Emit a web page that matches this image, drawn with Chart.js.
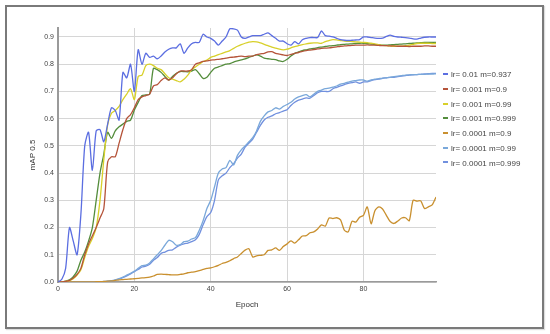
<!DOCTYPE html>
<html>
<head>
<meta charset="utf-8">
<script src="https://cdn.jsdelivr.net/npm/chart.js@4.4.1/dist/chart.umd.min.js"></script>
<style>
  html, body { margin: 0; padding: 0; background: #fff; }
  #wrap { position: relative; width: 550px; height: 334px; overflow: hidden; }
  #frame { position: absolute; left: 5px; top: 5px; width: 539px; height: 324px; box-sizing: border-box; border: 2px solid #7a7a7a; box-shadow: 1px 1px 1px #ddd; }
  #c { position: absolute; left: 0; top: 0; }
  .lg { position: absolute; left: 443px; height: 10px; line-height: 10px; font: 8px "Liberation Sans", Arial, sans-serif; color: #444; white-space: nowrap; }
  .lg i { display: inline-block; width: 5px; height: 2px; vertical-align: middle; margin-right: 3px; position: relative; top: -1px; }
</style>
</head>
<body>
<div id="wrap">
  <div id="frame"></div>
  <canvas id="c" width="550" height="334"></canvas>
  <div id="legend"></div>
</div>
<script>
const seriesNames = ["lr= 0.01 m=0.937", "lr= 0.001 m=0.9", "lr= 0.001 m=0.99", "lr= 0.001 m=0.999", "lr= 0.0001 m=0.9", "lr= 0.0001 m=0.99", "lr= 0.0001 m=0.999"];
const seriesColors = ["#5b6ee1", "#b5543a", "#d8d02a", "#548d3c", "#c9902f", "#7aa8da", "#7190de"];
const yTickLabels = ["0.0", "0.1", "0.2", "0.3", "0.4", "0.5", "0.6", "0.7", "0.8", "0.9"];
const xTickLabels = ["0", "20", "40", "60", "80"];

const epochs = Array.from({length: 100}, (_, i) => i);

const s1 = [0.0,0.01,0.05,0.20,0.15,0.10,0.25,0.50,0.55,0.41,
0.555,0.56,0.515,0.58,0.64,0.63,0.595,0.77,0.75,0.80,
0.70,0.853,0.80,0.84,0.825,0.83,0.82,0.83,0.845,0.855,
0.86,0.86,0.875,0.84,0.86,0.875,0.88,0.88,0.91,0.90,
0.895,0.885,0.87,0.885,0.90,0.93,0.93,0.925,0.90,0.895,
0.90,0.905,0.905,0.905,0.91,0.915,0.905,0.895,0.885,0.885,
0.875,0.87,0.883,0.875,0.89,0.895,0.898,0.898,0.898,0.922,
0.905,0.903,0.90,0.895,0.89,0.888,0.887,0.888,0.889,0.89,
0.90,0.90,0.898,0.896,0.895,0.896,0.902,0.907,0.902,0.90,
0.899,0.898,0.896,0.893,0.892,0.896,0.899,0.90,0.90,0.90];

const s2 = [0,0,0.002,0.006,0.015,0.028,0.05,0.10,0.14,0.17,
0.20,0.235,0.27,0.44,0.46,0.46,0.51,0.56,0.60,0.615,
0.64,0.67,0.68,0.685,0.69,0.72,0.725,0.74,0.75,0.742,
0.75,0.765,0.775,0.775,0.775,0.78,0.80,0.805,0.81,0.812,
0.815,0.816,0.818,0.82,0.822,0.825,0.826,0.828,0.83,0.828,
0.83,0.83,0.835,0.838,0.84,0.845,0.846,0.84,0.837,0.834,
0.832,0.836,0.84,0.843,0.847,0.85,0.852,0.854,0.856,0.858,
0.859,0.86,0.862,0.864,0.866,0.867,0.868,0.869,0.87,0.87,
0.87,0.871,0.87,0.87,0.869,0.868,0.868,0.867,0.867,0.866,
0.866,0.866,0.865,0.866,0.866,0.866,0.867,0.867,0.866,0.866];

const s3 = [0,0,0.002,0.005,0.012,0.025,0.045,0.09,0.13,0.16,
0.20,0.30,0.45,0.577,0.62,0.63,0.645,0.67,0.69,0.71,
0.67,0.755,0.76,0.795,0.80,0.795,0.785,0.78,0.765,0.75,
0.745,0.74,0.735,0.745,0.76,0.78,0.79,0.80,0.81,0.815,
0.825,0.83,0.835,0.84,0.845,0.85,0.858,0.866,0.872,0.877,
0.881,0.883,0.882,0.878,0.873,0.868,0.863,0.859,0.855,0.853,
0.855,0.86,0.865,0.868,0.872,0.875,0.877,0.878,0.878,0.877,
0.883,0.887,0.89,0.889,0.887,0.885,0.884,0.883,0.882,0.881,
0.88,0.879,0.877,0.875,0.872,0.869,0.868,0.867,0.866,0.866,
0.866,0.868,0.87,0.873,0.876,0.877,0.877,0.877,0.876,0.876];

const s4 = [0,0,0.003,0.008,0.02,0.04,0.08,0.11,0.15,0.20,
0.30,0.40,0.47,0.55,0.528,0.555,0.57,0.58,0.59,0.595,
0.632,0.66,0.685,0.687,0.69,0.785,0.78,0.77,0.755,0.742,
0.755,0.767,0.773,0.773,0.772,0.775,0.78,0.765,0.748,0.752,
0.77,0.785,0.79,0.795,0.80,0.802,0.808,0.812,0.816,0.82,
0.825,0.83,0.834,0.83,0.822,0.82,0.818,0.817,0.812,0.81,
0.818,0.83,0.84,0.845,0.85,0.853,0.856,0.858,0.861,0.863,
0.865,0.867,0.868,0.87,0.872,0.873,0.874,0.875,0.876,0.877,
0.877,0.876,0.874,0.872,0.871,0.87,0.87,0.871,0.872,0.873,
0.874,0.875,0.876,0.877,0.878,0.879,0.88,0.88,0.88,0.88];

const s5 = [0,0,0,0,0,0,0,0,0,0,
0.001,0.001,0.002,0.003,0.004,0.006,0.008,0.009,0.01,0.011,
0.012,0.013,0.015,0.016,0.018,0.022,0.028,0.029,0.028,0.027,
0.026,0.026,0.028,0.03,0.034,0.036,0.038,0.042,0.046,0.05,
0.052,0.056,0.061,0.068,0.072,0.078,0.086,0.092,0.105,0.117,
0.122,0.092,0.096,0.098,0.10,0.116,0.118,0.125,0.116,0.13,
0.14,0.151,0.143,0.155,0.169,0.17,0.181,0.184,0.195,0.21,
0.205,0.235,0.233,0.236,0.228,0.19,0.184,0.223,0.22,0.238,
0.245,0.276,0.214,0.262,0.276,0.268,0.245,0.222,0.215,0.224,
0.235,0.236,0.225,0.30,0.297,0.298,0.27,0.276,0.283,0.312];

const s6 = [0,0,0,0,0,0,0,0,0,0,
0,0.001,0.002,0.003,0.005,0.008,0.012,0.018,0.025,0.032,
0.04,0.05,0.06,0.062,0.07,0.085,0.10,0.115,0.135,0.153,
0.148,0.135,0.137,0.148,0.15,0.158,0.163,0.19,0.225,0.27,
0.30,0.35,0.40,0.415,0.42,0.447,0.43,0.465,0.485,0.50,
0.515,0.53,0.555,0.59,0.61,0.625,0.63,0.64,0.635,0.645,
0.652,0.66,0.672,0.68,0.685,0.688,0.68,0.69,0.70,0.705,
0.71,0.712,0.716,0.72,0.727,0.73,0.734,0.738,0.74,0.742,
0.742,0.738,0.742,0.745,0.747,0.749,0.75,0.752,0.754,0.756,
0.758,0.76,0.761,0.762,0.762,0.763,0.763,0.764,0.764,0.765];

const s7 = [0,0,0,0,0,0,0,0,0,0,
0,0,0.001,0.002,0.004,0.007,0.011,0.016,0.022,0.03,
0.038,0.046,0.055,0.058,0.065,0.08,0.09,0.105,0.11,0.116,
0.118,0.128,0.135,0.14,0.143,0.148,0.155,0.175,0.21,0.24,
0.255,0.30,0.375,0.39,0.40,0.42,0.435,0.455,0.47,0.495,
0.51,0.525,0.55,0.575,0.595,0.605,0.61,0.618,0.622,0.628,
0.633,0.648,0.66,0.668,0.672,0.676,0.675,0.685,0.695,0.70,
0.70,0.70,0.71,0.715,0.72,0.725,0.73,0.732,0.735,0.73,
0.735,0.735,0.74,0.743,0.745,0.748,0.75,0.752,0.752,0.754,
0.756,0.758,0.76,0.761,0.762,0.763,0.764,0.765,0.766,0.766];

const allSeries = [s1, s2, s3, s4, s5, s6, s7];

const datasets = allSeries.map((s, k) => ({
  label: seriesNames[k],
  data: s.map((v, i) => ({x: epochs[i], y: v})),
  borderColor: seriesColors[k],
  backgroundColor: seriesColors[k],
  borderWidth: 1.3,
  pointRadius: 0,
  pointHoverRadius: 0,
  tension: 0.25,
  fill: false
}));

// HTML legend
const lg = document.getElementById('legend');
seriesNames.forEach((n, k) => {
  const d = document.createElement('div');
  d.className = 'lg';
  d.style.top = (70.3 + k * 14.7) + 'px';
  d.innerHTML = '<i style="background:' + seriesColors[k] + '"></i>' + n;
  lg.appendChild(d);
});

const tickFont = {family: '"Liberation Sans", Arial, sans-serif', size: 7};
const titleFont = {family: '"Liberation Sans", Arial, sans-serif', size: 8};

new Chart(document.getElementById('c'), {
  type: 'line',
  data: { datasets },
  options: {
    responsive: false,
    animation: false,
    events: [],
    layout: { padding: { left: 0, right: 114, top: 28, bottom: 0 } },
    plugins: { legend: { display: false }, tooltip: { enabled: false } },
    scales: {
      x: {
        type: 'linear',
        min: 0, max: 99,
        afterFit: s => { s.height = 52; },
        ticks: {
          stepSize: 20, includeBounds: false, font: tickFont, color: '#444', padding: 3, maxRotation: 0,
          callback: v => xTickLabels[v / 20]
        },
        grid: { color: '#d6d6d6', lineWidth: 1, drawTicks: false },
        border: { color: '#9a9a9a', width: 1.5 },
        title: { display: true, text: 'Epoch', font: titleFont, color: '#333', padding: { top: 0, bottom: 24 } }
      },
      y: {
        type: 'linear',
        min: 0, max: 0.933,
        afterFit: s => { s.width = 58; },
        afterBuildTicks: s => { s.ticks = s.ticks.filter(t => Math.abs(t.value * 10 - Math.round(t.value * 10)) < 1e-6); },
        ticks: {
          stepSize: 0.1, includeBounds: false, font: tickFont, color: '#444', padding: 4,
          callback: v => yTickLabels[Math.round(v * 10)]
        },
        grid: { color: '#d6d6d6', lineWidth: 1, drawTicks: false },
        border: { color: '#9a9a9a', width: 2 },
        title: { display: true, text: 'mAP 0.5', font: titleFont, color: '#333', padding: { top: 28, bottom: 0 } }
      }
    }
  }
});
</script>
</body>
</html>
